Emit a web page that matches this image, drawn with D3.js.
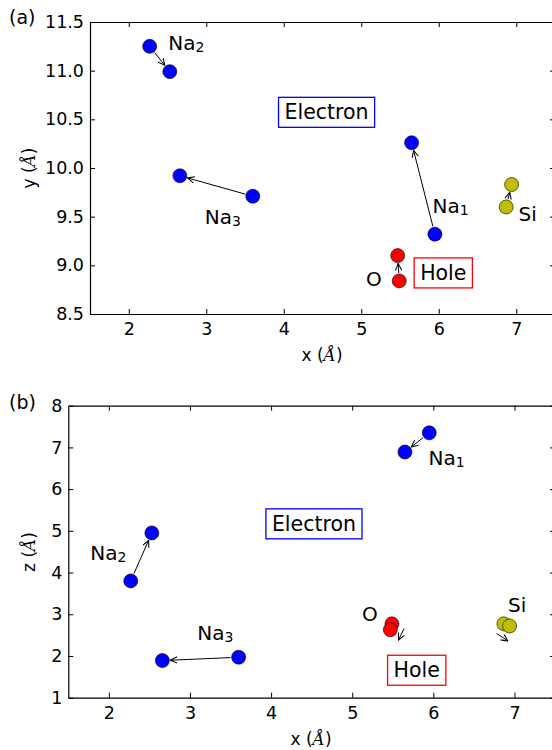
<!DOCTYPE html>
<html>
<head>
<meta charset="utf-8">
<script src="https://cdn.jsdelivr.net/npm/d3@7"></script>
<style>
  body { margin: 0; background: #fff; }
  svg { font-family: "DejaVu Sans", sans-serif; }
</style>
</head>
<body>
<div id="chart"></div>
<script>
// atoms, in the order Na1, Na2, Na3, O, Si
const species = ["Na1", "Na2", "Na3", "O", "Si"];
const xStart = [5.95, 2.27, 3.60, 5.49, 6.87];
const xEnd   = [5.65, 2.53, 2.66, 5.47, 6.94];
const yStart = [9.32, 11.25, 9.71, 8.84, 9.60];
const yEnd   = [10.26, 10.99, 9.92, 9.10, 9.83];
const zStart = [7.35, 3.80, 1.97, 2.77, 2.77];
const zEnd   = [6.89, 4.95, 1.89, 2.63, 2.72];

// short arrows drawn beside O and Si in panel (b)
const bArrowSpecies = ["O", "Si"];
const bArrowFrom = [[5.64, 2.66], [6.78, 2.54]];
const bArrowTo   = [[5.57, 2.38], [6.92, 2.36]];

// label anchors (data units)
const labelsA = [["Na", "1", 5.92, 9.54], ["Na", "2", 2.51, 11.21], ["Na", "3", 2.98, 9.425], ["O", "", 5.06, 8.79], ["Si", "", 7.03, 9.46]];
const labelsB = [["Na", "1", 5.94, 6.59], ["Na", "2", 1.77, 4.30], ["Na", "3", 3.09, 2.38], ["O", "", 5.12, 2.84], ["Si", "", 6.92, 3.06]];
const boxesA = [["Electron", 4.01, 10.5], ["Hole", 5.76, 8.85]];
const boxesB = [["Electron", 4.01, 5.0], ["Hole", 5.51, 1.49]];

const xTicks = [2, 3, 4, 5, 6, 7];
const yTicks = [8.5, 9.0, 9.5, 10.0, 10.5, 11.0, 11.5];
const zTicks = [1, 2, 3, 4, 5, 6, 7, 8];

const colors = { Na1: "#0000ff", Na2: "#0000ff", Na3: "#0000ff", O: "#ff0000", Si: "#bfbf00" };
const boxColor = { Electron: "#0000ff", Hole: "#ff0000" };

const W = 552, H = 750, R = 7;

const svg = d3.select("#chart").append("svg")
    .attr("width", W)
    .attr("height", H);

const defs = svg.append("defs");
defs.append("marker")
    .attr("id", "head")
    .attr("viewBox", "0 0 10 10")
    .attr("refX", 9.5)
    .attr("refY", 5)
    .attr("markerWidth", 8)
    .attr("markerHeight", 8)
    .attr("markerUnits", "userSpaceOnUse")
    .attr("orient", "auto")
    .append("path")
    .attr("d", "M1,1 L9.5,5 L1,9")
    .attr("fill", "none")
    .attr("stroke", "#000")
    .attr("stroke-width", 1.3);

function drawPanel(opt) {
    const x = d3.scaleLinear().domain([1.5, 7.5]).range([opt.left, 555]);
    const y = d3.scaleLinear().domain(opt.yDomain).range([opt.bottom, opt.top]);
    const g = svg.append("g");

    // axes with inward ticks on all sides
    g.append("g")
        .attr("transform", `translate(0,${opt.bottom})`)
        .call(d3.axisBottom(x).tickValues(xTicks).tickSizeInner(-5).tickSizeOuter(0).tickPadding(9).tickFormat(d3.format("d")));
    g.append("g")
        .attr("transform", `translate(0,${opt.top})`)
        .call(d3.axisTop(x).tickValues(xTicks).tickSizeInner(-5).tickSizeOuter(0).tickFormat(""));
    g.append("g")
        .attr("transform", `translate(${opt.left},0)`)
        .call(d3.axisLeft(y).tickValues(opt.yTicks).tickSizeInner(-5).tickSizeOuter(0).tickPadding(6).tickFormat(opt.fmt));
    g.append("g")
        .attr("transform", `translate(555,0)`)
        .call(d3.axisRight(y).tickValues(opt.yTicks).tickSizeInner(-5).tickSizeOuter(0).tickFormat(""));

    g.selectAll(".domain").attr("stroke", "#000").attr("stroke-width", 1.2);
    g.selectAll(".tick line").attr("stroke", "#000").attr("stroke-width", 1);
    g.selectAll(".tick text")
        .style("font-family", "DejaVu Sans")
        .style("font-size", "17.5px")
        .attr("fill", "#000");

    // axis titles
    const xl = g.append("text")
        .attr("x", opt.xLabelX)
        .attr("y", opt.xLabelY)
        .attr("text-anchor", "middle")
        .style("font-size", "17px");
    xl.append("tspan").text("x (");
    xl.append("tspan").style("font-style", "italic").style("font-family", "DejaVu Serif").text("Å");
    xl.append("tspan").text(")");

    const yl = g.append("text")
        .attr("transform", `translate(${opt.yLabelX},${opt.yLabelY}) rotate(-90)`)
        .attr("text-anchor", "middle")
        .style("font-size", "17px");
    yl.append("tspan").text(opt.yName + " (");
    yl.append("tspan").style("font-style", "italic").style("font-family", "DejaVu Serif").text("Å");
    yl.append("tspan").text(")");

    // panel tag
    g.append("text")
        .attr("x", 9)
        .attr("y", opt.tagY)
        .style("font-size", "19px")
        .text(opt.tag);

    // displacement arrows, trimmed to the circle edges
    species.forEach((s, i) => {
        if (opt.skipArrows.includes(s)) return;
        const x1 = x(xStart[i]), y1 = y(opt.vStart[i]);
        const x2 = x(xEnd[i]), y2 = y(opt.vEnd[i]);
        const dx = x2 - x1, dy = y2 - y1;
        const len = Math.hypot(dx, dy);
        const sh = R + 1;
        if (len <= 2 * sh) return;
        const ux = dx / len, uy = dy / len;
        g.append("line")
            .attr("x1", x1 + ux * sh)
            .attr("y1", y1 + uy * sh)
            .attr("x2", x2 - ux * sh)
            .attr("y2", y2 - uy * sh)
            .attr("stroke", "#000")
            .attr("stroke-width", 1)
            .attr("marker-end", "url(#head)");
    });

    (opt.extraFrom || []).forEach((f, i) => {
        const t = opt.extraTo[i];
        g.append("line")
            .attr("x1", x(f[0])).attr("y1", y(f[1]))
            .attr("x2", x(t[0])).attr("y2", y(t[1]))
            .attr("stroke", "#000")
            .attr("stroke-width", 1)
            .attr("marker-end", "url(#head)");
    });

    // atoms: start then end on top
    species.forEach((s, i) => {
        [[xStart[i], opt.vStart[i]], [xEnd[i], opt.vEnd[i]]].forEach(p => {
            g.append("circle")
                .attr("cx", x(p[0]))
                .attr("cy", y(p[1]))
                .attr("r", R)
                .attr("fill", colors[s])
                .attr("stroke", "#000")
                .attr("stroke-width", 0.6);
        });
    });

    // species labels
    opt.labels.forEach(l => {
        const t = g.append("text")
            .attr("x", x(l[2]))
            .attr("y", y(l[3]))
            .style("font-size", "20px");
        t.append("tspan").text(l[0]);
        if (l[1]) t.append("tspan").attr("dy", "0.15em").style("font-size", "14px").text(l[1]);
    });

    // Electron / Hole boxes
    opt.boxes.forEach(b => {
        const t = g.append("text")
            .attr("x", x(b[1]))
            .attr("y", y(b[2]))
            .style("font-size", "20.5px")
            .text(b[0]);
        const bb = t.node().getBBox();
        g.insert("rect", () => t.node())
            .attr("x", bb.x - 6)
            .attr("y", bb.y - 3)
            .attr("width", bb.width + 12)
            .attr("height", bb.height + 6)
            .attr("fill", "#fff")
            .attr("stroke", boxColor[b[0]])
            .attr("stroke-width", 1.3);
    });
}

drawPanel({
    left: 90, top: 22, bottom: 314,
    yDomain: [8.5, 11.5], yTicks: yTicks, fmt: d3.format(".1f"),
    vStart: yStart, vEnd: yEnd,
    skipArrows: [],
    labels: labelsA, boxes: boxesA,
    yName: "y", xLabelX: 322, xLabelY: 361, yLabelX: 35, yLabelY: 168,
    tag: "(a)", tagY: 24
});

drawPanel({
    left: 68.3, top: 405.7, bottom: 697.7,
    yDomain: [1, 8], yTicks: zTicks, fmt: d3.format("d"),
    vStart: zStart, vEnd: zEnd,
    skipArrows: bArrowSpecies,
    extraFrom: bArrowFrom, extraTo: bArrowTo,
    labels: labelsB, boxes: boxesB,
    yName: "z", xLabelX: 311, xLabelY: 745, yLabelX: 35, yLabelY: 552,
    tag: "(b)", tagY: 409
});
</script>
</body>
</html>
